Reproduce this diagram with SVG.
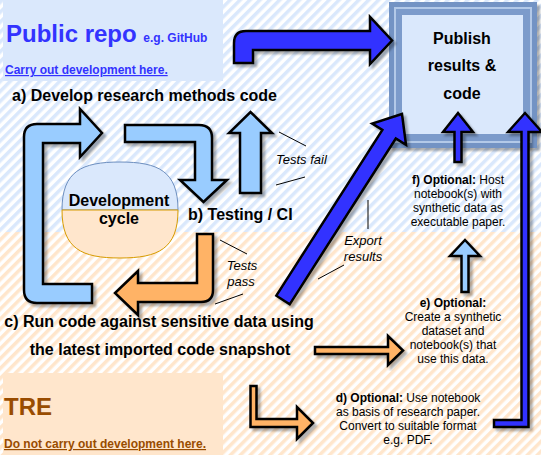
<svg xmlns="http://www.w3.org/2000/svg" width="541" height="455" viewBox="0 0 541 455">
<style>
text { font-family: "Liberation Sans", Arial, sans-serif; }
.b16 { font-size: 16px; font-weight: bold; fill: #000; }
.lbl { font-size: 13px; font-style: italic; fill: #000; }
.opt { font-size: 12px; fill: #000; text-anchor: middle; }
.lead { stroke: #000; stroke-width: 1; fill: none; }
.arrow { stroke: #000; stroke-width: 2.5; stroke-linejoin: miter; filter: url(#sh); }
.dblue { fill: #3333ff; }
.lblue { fill: #99ccff; }
.orng { fill: #ffb366; }
</style>
<defs>
<pattern id="hb" width="7" height="7" patternUnits="userSpaceOnUse" patternTransform="rotate(45)">
<rect width="7" height="7" fill="#ffffff"/>
<rect width="3.5" height="7" fill="#dae8fc"/>
</pattern>
<pattern id="ho" width="7" height="7" patternUnits="userSpaceOnUse" patternTransform="rotate(45)">
<rect width="7" height="7" fill="#ffffff"/>
<rect width="3.5" height="7" fill="#ffe6cc"/>
</pattern>
<filter id="sh" x="-20%" y="-20%" width="140%" height="140%">
<feDropShadow dx="3" dy="3" stdDeviation="1" flood-color="#000" flood-opacity="0.3"/>
</filter>
</defs>

<g id="background">
<rect x="0" y="0" width="541" height="232" fill="url(#hb)"/>
<rect x="0" y="232" width="541" height="223" fill="url(#ho)"/>
</g>

<g id="public-repo">
<rect x="3" y="0" width="220" height="81" fill="#dae8fc"/>
<text x="6" y="42" style="font-size:24px;font-weight:bold;fill:#3333ff">Public repo <tspan style="font-size:12px">e.g. GitHub</tspan></text>
<text x="5" y="74" style="font-size:12px;font-weight:bold;fill:#3333ff;text-decoration:underline">Carry out development here.</text>
</g>

<g id="tre">
<rect x="3" y="373" width="220" height="82" fill="#ffe6cc"/>
<text x="4" y="415" style="font-size:24px;font-weight:bold;fill:#994c00">TRE</text>
<text x="4" y="448" style="font-size:12px;font-weight:bold;fill:#994c00;text-decoration:underline">Do not carry out development here.</text>
</g>

<g id="publish">
<rect x="389" y="2" width="148" height="146" fill="#7393c4" filter="url(#sh)"/>
<rect x="394" y="7" width="138" height="136" fill="#b3c9e8"/>
<rect x="396" y="9" width="134" height="132" fill="#7c9bcb"/>
<rect x="402" y="15" width="121" height="119" fill="#dae8fc"/>
<text class="b16" x="462" y="44" text-anchor="middle">Publish</text>
<text class="b16" x="462" y="71" text-anchor="middle">results &amp;</text>
<text class="b16" x="462" y="99" text-anchor="middle">code</text>
</g>

<g id="dev-cycle">
<path d="M62,210 C62,171 82,162 120,162 C158,162 178,171 178,210 Z" fill="#dae8fc" stroke="#6c8ebf" stroke-width="1"/>
<path d="M62,210 C62,249 82,258 120,258 C158,258 178,249 178,210 Z" fill="#ffe6cc" stroke="#d79b00" stroke-width="1"/>
<text class="b16" x="119" y="206" text-anchor="middle">Development</text>
<text class="b16" x="119" y="224" text-anchor="middle">cycle</text>
</g>

<g id="step-a"><text class="b16" x="12" y="101">a) Develop research methods code</text></g>
<g id="step-b"><text class="b16" x="188" y="220">b) Testing / CI</text></g>
<g id="step-c">
<text class="b16" x="159" y="327" text-anchor="middle">c) Run code against sensitive data using</text>
<text class="b16" x="160" y="355" text-anchor="middle">the latest imported code snapshot</text>
</g>

<g id="step-f">
<text class="opt" x="458" y="184"><tspan font-weight="bold">f) Optional:</tspan> Host</text>
<text class="opt" x="458" y="198">notebook(s) with</text>
<text class="opt" x="458" y="212">synthetic data as</text>
<text class="opt" x="458" y="226">executable paper.</text>
</g>
<g id="step-e">
<text class="opt" x="453" y="307" font-weight="bold">e) Optional:</text>
<text class="opt" x="453" y="321">Create a synthetic</text>
<text class="opt" x="453" y="335">dataset and</text>
<text class="opt" x="453" y="349">notebook(s) that</text>
<text class="opt" x="453" y="363">use this data.</text>
</g>
<g id="step-d">
<text class="opt" x="408" y="402"><tspan font-weight="bold">d) Optional:</tspan> Use notebook</text>
<text class="opt" x="408" y="416">as basis of research paper.</text>
<text class="opt" x="408" y="430">Convert to suitable format</text>
<text class="opt" x="408" y="444">e.g. PDF.</text>
</g>

<g id="connectors">
<path class="arrow dblue" d="M234,63 L234,43 Q234,31 246,31 L370,31 L370,17 L392,40.5 L370,64 L370,50 L253,50 L253,63 Z"/>
<path class="arrow lblue" d="M92,284 L43,284 L43,143 L80,143 L80,157 L102,133 L80,109 L80,124 L37,124 Q24,124 24,137 L24,290 Q24,303 37,303 L92,303 Z"/>
<path class="arrow lblue" d="M125,125 L199,125 Q212,125 212,138 L212,180 L227,180 L203.5,202 L180,180 L195,180 L195,142 L125,142 Z"/>
<path class="arrow lblue" d="M240,193 L240,133 L229,133 L250.5,112 L272,133 L261,133 L261,193 Z"/>
<path class="arrow orng" d="M197,234 L213,234 L213,290 Q213,302 201,302 L138,302 L138,315 L115,293 L138,271 L138,283 L197,283 Z"/>
<path class="arrow dblue" d="M276.3,295.7 L382.4,129.9 L372.2,123.5 L402,114 L406,144.9 L395.8,138.5 L289.7,304.3 Z"/>
<path class="arrow dblue" d="M454.5,162 L454.5,132 L443,132 L458,113 L473,132 L461.5,132 L461.5,162 Z"/>
<path class="arrow dblue" d="M494,420 L521.5,420 L521.5,132 L508,132 L525,113 L542,132 L528.5,132 L528.5,427 L494,427 Z"/>
<path class="arrow lblue" d="M461.5,292 L461.5,256 L450,256 L465,240 L480,256 L468.5,256 L468.5,292 Z"/>
<path class="arrow orng" d="M315,347 L388,347 L388,336 L403,350.5 L388,365 L388,354 L315,354 Z"/>
<path class="arrow orng" d="M250.5,386 L256.5,386 L256.5,419 L297,419 L297,407 L313,423 L297,439 L297,427 L250.5,427 Z"/>
<line class="lead" x1="279" y1="132" x2="306" y2="146"/>
<line class="lead" x1="276" y1="185" x2="305" y2="177"/>
<text class="lbl" x="276" y="164">Tests fail</text>
<line class="lead" x1="220" y1="240" x2="247" y2="254"/>
<line class="lead" x1="215" y1="304" x2="243" y2="294"/>
<text class="lbl" x="242" y="270" text-anchor="middle">Tests</text>
<text class="lbl" x="241" y="286" text-anchor="middle">pass</text>
<line class="lead" x1="368" y1="200" x2="368" y2="229"/>
<line class="lead" x1="318" y1="279" x2="344" y2="265"/>
<text class="lbl" x="363" y="245" text-anchor="middle">Export</text>
<text class="lbl" x="363" y="261" text-anchor="middle">results</text>
</g>
</svg>
